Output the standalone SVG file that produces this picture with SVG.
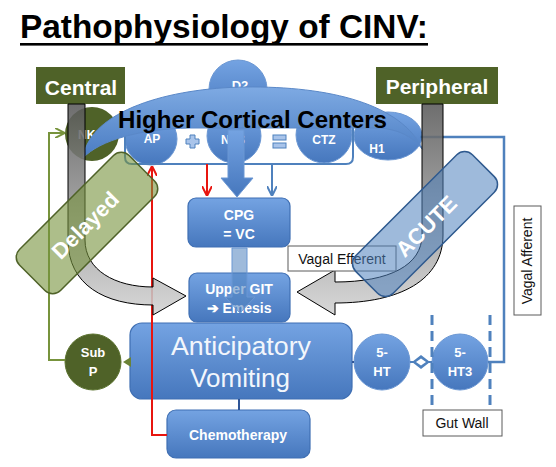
<svg xmlns="http://www.w3.org/2000/svg" width="556" height="467" viewBox="0 0 556 467">
<defs>
<linearGradient id="gBlue" x1="0" y1="0" x2="0" y2="1">
<stop offset="0" stop-color="#74a3e2"/><stop offset="1" stop-color="#4677bd"/>
</linearGradient>
<linearGradient id="gDome" x1="0" y1="0" x2="0" y2="1">
<stop offset="0" stop-color="#7eaae3"/><stop offset="1" stop-color="#4a7cc2"/>
</linearGradient>
<linearGradient id="gGrayL" gradientUnits="userSpaceOnUse" x1="0" y1="104" x2="0" y2="315">
<stop offset="0" stop-color="#595959"/><stop offset="1" stop-color="#d2d2d2"/>
</linearGradient>
<linearGradient id="gGrayR" gradientUnits="userSpaceOnUse" x1="0" y1="104" x2="0" y2="315">
<stop offset="0" stop-color="#595959"/><stop offset="1" stop-color="#d2d2d2"/>
</linearGradient>
<marker id="mRed" viewBox="0 0 10 10" refX="10" refY="5" markerWidth="10" markerHeight="10" markerUnits="userSpaceOnUse" orient="auto">
<path d="M0,0 L10,5 L0,10" fill="none" stroke="#e8150f" stroke-width="2"/>
</marker>
<marker id="mBlue" viewBox="0 0 10 10" refX="10" refY="5" markerWidth="10" markerHeight="10" markerUnits="userSpaceOnUse" orient="auto">
<path d="M0,0 L10,5 L0,10" fill="none" stroke="#4f81bd" stroke-width="2"/>
</marker>
<marker id="mGreen" viewBox="0 0 10 10" refX="10" refY="5" markerWidth="10" markerHeight="10" markerUnits="userSpaceOnUse" orient="auto">
<path d="M0,0 L10,5 L0,10" fill="none" stroke="#77933c" stroke-width="2"/>
</marker>
<style>
.bx { fill: url(#gBlue); stroke: #3f6fb3; stroke-width: 1.2; }
.wt { fill: #ffffff; font-family: "Liberation Sans", Arial, sans-serif; font-weight: bold; text-anchor: middle; }
.lbl { fill: #111111; font-family: "Liberation Sans", Arial, sans-serif; font-size: 14px; text-anchor: middle; }
.lbox { fill: #ffffff; stroke: #5a5a5a; stroke-width: 1; }
.olive { fill: #4f6228; }
.pl { fill: #a9c4ea; stroke: #4f81bd; stroke-width: 1; }
</style>
</defs>
<rect width="556" height="467" fill="#ffffff"/>

<g id="title">
<text x="20" y="38" font-family="'Liberation Sans', Arial, sans-serif" font-weight="bold" font-size="33" textLength="408" lengthAdjust="spacingAndGlyphs" fill="#000">Pathophysiology of CINV:</text>
<rect x="20" y="43" width="408" height="2.6" fill="#000"/>
</g>

<g id="central">
<rect x="36" y="67" width="89" height="37" class="olive"/>
<text x="81" y="95" class="wt" font-size="21">Central</text>
</g>
<g id="peripheral">
<rect x="376" y="67" width="122" height="37" class="olive"/>
<text x="437" y="94" class="wt" font-size="21">Peripheral</text>
</g>

<g id="nk1">
<circle cx="92" cy="134" r="27" fill="#4f6228"/>
<text x="90" y="139" class="wt" font-size="12">NK1</text>
</g>

<g id="d2">
<circle cx="238" cy="89" r="29" fill="url(#gBlue)" stroke="#6b97d3" stroke-width="1"/>
<text x="240" y="90" class="wt" font-size="13">D2</text>
</g>

<g id="ap">
<circle cx="151" cy="139" r="26" fill="url(#gBlue)" stroke="#6b97d3" stroke-width="1"/>
<text x="152" y="143" class="wt" font-size="12">AP</text>
</g>
<g id="nts">
<circle cx="234" cy="136" r="27" fill="url(#gBlue)" stroke="#6b97d3" stroke-width="1"/>
<text x="233" y="144" class="wt" font-size="12">NTS</text>
</g>
<g id="ctz">
<circle cx="324" cy="135" r="28" fill="url(#gBlue)" stroke="#6b97d3" stroke-width="1"/>
<text x="324" y="144" class="wt" font-size="12">CTZ</text>
</g>
<g id="h1">
<ellipse cx="388" cy="136" rx="34" ry="24" fill="url(#gBlue)" stroke="#6b97d3" stroke-width="1"/>
<text x="377" y="153" class="wt" font-size="12">H1</text>
</g>

<g id="plus">
<path d="M190,135 H195 V139 H199 V144 H195 V148 H190 V144 H186 V139 H190 Z" class="pl"/>
</g>
<g id="equals">
<rect x="273" y="135" width="13" height="5" class="pl"/>
<rect x="273" y="143" width="13" height="5" class="pl"/>
</g>

<g id="bracket">
<path d="M125,128 V157 Q125,164 132,164 H346 Q353,164 353,157 V128" fill="none" stroke="#4f81bd" stroke-width="2"/>
</g>

<g id="higher-cortical-centers">
<path d="M83,158 C90,110 170,88 245,87 C330,86 402,104 423,150 C412,136 398,129 378,128 L190,128 C140,129 100,140 83,158 Z" fill="url(#gDome)" stroke="#5a88c8" stroke-width="1"/>
<text x="118" y="128" font-family="'Liberation Sans', Arial, sans-serif" font-weight="bold" font-size="24" textLength="269" lengthAdjust="spacingAndGlyphs" fill="#000">Higher Cortical Centers</text>
</g>

<g id="cpg">
<rect x="188" y="198" width="102" height="49" rx="8" class="bx"/>
<text x="239" y="220" class="wt" font-size="14">CPG</text>
<text x="239" y="239" class="wt" font-size="14">= VC</text>
</g>

<g id="upper-git">
<rect x="189" y="273" width="101" height="49" rx="8" class="bx"/>
<text x="239" y="294" class="wt" font-size="14">Upper GIT</text>
<text x="239" y="313" class="wt" font-size="14">➔ Emesis</text>
</g>

<g id="anticipatory">
<rect x="130" y="323" width="222" height="76" rx="12" class="bx"/>
<text x="241" y="355" font-family="'Liberation Sans', Arial, sans-serif" font-size="26" text-anchor="middle" fill="#f2f6fc" textLength="140" lengthAdjust="spacingAndGlyphs">Anticipatory</text>
<text x="240" y="387" font-family="'Liberation Sans', Arial, sans-serif" font-size="26" text-anchor="middle" fill="#f2f6fc">Vomiting</text>
</g>

<g id="chemotherapy">
<rect x="167" y="410" width="143" height="48" rx="9" class="bx"/>
<text x="238" y="440" class="wt" font-size="14">Chemotherapy</text>
</g>

<g id="subp">
<circle cx="93" cy="362" r="28" fill="#4f6228" stroke="#5d7430" stroke-width="1"/>
<text x="93" y="357" class="wt" font-size="13">Sub</text>
<text x="93" y="376" class="wt" font-size="13">P</text>
</g>

<g id="ht5">
<circle cx="382" cy="362" r="28" fill="url(#gBlue)" stroke="#6b97d3" stroke-width="1"/>
<text x="382" y="357" class="wt" font-size="13">5-</text>
<text x="382" y="376" class="wt" font-size="13">HT</text>
</g>
<g id="ht3">
<circle cx="460" cy="362" r="28" fill="url(#gBlue)" stroke="#6b97d3" stroke-width="1"/>
<text x="460" y="357" class="wt" font-size="13">5-</text>
<text x="460" y="376" class="wt" font-size="13">HT3</text>
</g>

<g id="connectors">
<path d="M65,360 H49 V133 H65" fill="none" stroke="#77933c" stroke-width="2" marker-end="url(#mGreen)"/>
<polygon points="123,362 131,357 131,367" fill="#6a8236"/>
<path d="M167,435 H152 V166" fill="none" stroke="#e8150f" stroke-width="2" marker-end="url(#mRed)"/>
<path d="M207,164 V196" fill="none" stroke="#e8150f" stroke-width="2" marker-end="url(#mRed)"/>
<path d="M272,164 V196" fill="none" stroke="#4f81bd" stroke-width="2" marker-end="url(#mBlue)"/>
<path d="M228,130 H244 V178 H253 L237,197 L221,178 H228 Z" fill="url(#gBlue)" stroke="#6b97d3" stroke-width="1"/>
<path d="M232,248 H247 V297 H255 L240,313 L225,297 H232 Z" fill="#4f81bd" fill-opacity="0.55" stroke="#6b97d3" stroke-width="1"/>
<line x1="239" y1="399" x2="239" y2="410" stroke="#2f5597" stroke-width="2"/>
<line x1="352" y1="362" x2="354" y2="362" stroke="#2f5597" stroke-width="2"/>
<line x1="410" y1="362" x2="432" y2="362" stroke="#4f81bd" stroke-width="2"/>
<polygon points="412,362 421,355 430,362 421,369" fill="#4f81bd"/>
<polygon points="416,362 421,358.5 426,362 421,365.5" fill="#ffffff"/>
<path d="M420,137 H504 V362 H488" fill="none" stroke="#4f81bd" stroke-width="2.5"/>
<path d="M68,104 L68,240 C68,285 105,305 153,305 L153,315 L186,296 L153,278 L153,287 C115,287 85,270 85,240 L85,104 Z" fill="url(#gGrayL)" fill-opacity="0.87" stroke="#000" stroke-width="1"/>
<path d="M443,104 L443,235 C443,280 400,303 335,303 L335,315 L297,292 L335,270 L335,282 C390,282 422,265 422,235 L422,104 Z" fill="url(#gGrayR)" fill-opacity="0.87" stroke="#000" stroke-width="1"/>
</g>

<g id="gut-wall">
<line x1="432" y1="315" x2="432" y2="410" stroke="#4f81bd" stroke-width="3" stroke-dasharray="10 6"/>
<line x1="490" y1="315" x2="490" y2="410" stroke="#4f81bd" stroke-width="3" stroke-dasharray="10 6"/>
<rect x="423" y="410" width="79" height="26" class="lbox"/>
<text x="462" y="428" class="lbl">Gut Wall</text>
</g>

<g id="vagal-efferent">
<rect x="288" y="246" width="108" height="25" class="lbox"/>
<text x="342" y="264" class="lbl">Vagal Efferent</text>
</g>

<g id="vagal-afferent">
<rect x="514" y="206" width="27" height="109" class="lbox"/>
<text x="0" y="0" class="lbl" font-size="15" transform="translate(532,261) rotate(-90)">Vagal Afferent</text>
</g>

<g id="delayed">
<rect x="9.5" y="194" width="155" height="58" rx="11" transform="rotate(-45 87 223)" fill="#77933c" fill-opacity="0.6" stroke="#4f6228" stroke-width="1.5"/>
<text x="0" y="0" class="wt" font-size="22" transform="translate(85,225) rotate(-45) translate(0,8)">Delayed</text>
</g>

<g id="acute">
<rect x="342.5" y="197.5" width="165" height="53" rx="11" transform="rotate(-45 425 224)" fill="#4f81bd" fill-opacity="0.55" stroke="#2f5a8f" stroke-width="1.5"/>
<text x="0" y="0" class="wt" font-size="22" transform="translate(426,226) rotate(-45) translate(0,8)">ACUTE</text>
</g>
</svg>
